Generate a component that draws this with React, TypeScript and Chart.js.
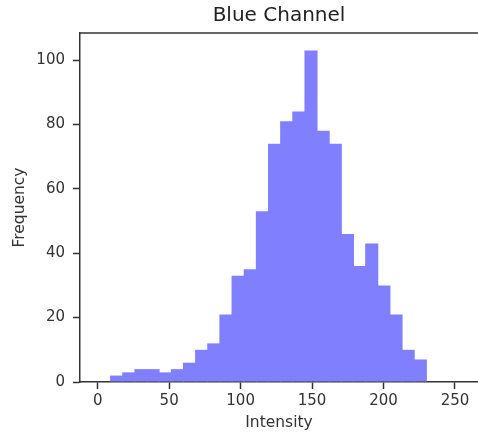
import React, { useEffect, useRef } from "react";
import { Chart, registerables } from "chart.js";

Chart.register(...registerables);

// Histogram bin edges (intensity) and counts per bin
const binEdges = [
  9, 17.5, 26, 34.5, 43, 51.5, 60, 68.5, 77, 85.5, 94, 102.5, 111, 119.5,
  128, 136.5, 145, 153.5, 162, 170.5, 179, 187.5, 196, 204.5, 213, 221.5, 230,
];
const counts = [
  2, 3, 4, 4, 3, 4, 6, 10, 12, 21, 33, 35, 53, 74, 81, 84, 103, 78, 74, 46,
  36, 43, 30, 21, 10, 7,
];
const xTicks = [0, 50, 100, 150, 200, 250];
const yTicks = [0, 20, 40, 60, 80, 100];

const TITLE = "Blue Channel";
const X_LABEL = "Intensity";
const Y_LABEL = "Frequency";

const W = 478;
const H = 434;
const FONT = "'DejaVu Sans', sans-serif";
const INK = "#333333";

const topSpine = {
  id: "topSpine",
  afterDatasetsDraw(chart: any) {
    const { ctx, chartArea } = chart;
    ctx.save();
    ctx.strokeStyle = INK;
    ctx.lineWidth = 1.5;
    ctx.beginPath();
    ctx.moveTo(chartArea.left - 0.75, chartArea.top);
    ctx.lineTo(chartArea.right, chartArea.top);
    ctx.stroke();
    ctx.restore();
  },
};

export default function App() {
  const ref = useRef<HTMLCanvasElement | null>(null);

  useEffect(() => {
    if (!ref.current) return;
    const data = counts.map((c, i) => ({
      x: (binEdges[i] + binEdges[i + 1]) / 2,
      y: c,
    }));
    const chart = new Chart(ref.current, {
      type: "bar",
      data: {
        datasets: [
          {
            data,
            backgroundColor: "#8080ff",
            borderWidth: 0,
            borderSkipped: false,
            barPercentage: 1.08,
            categoryPercentage: 1,
            grouped: false,
          } as any,
        ],
      },
      plugins: [topSpine],
      options: {
        animation: false,
        responsive: false,
        maintainAspectRatio: false,
        devicePixelRatio: 1,
        layout: { padding: 0 },
        plugins: {
          legend: { display: false },
          tooltip: { enabled: false },
          title: {
            display: true,
            text: TITLE,
            fullSize: false,
            color: "#222",
            font: { family: FONT, size: 20, weight: "normal" as any, lineHeight: 1.2 },
            padding: { top: 4, bottom: 5 },
          },
        },
        scales: {
          x: {
            type: "linear",
            min: -12.38,
            max: 266.1,
            offset: false,
            grid: {
              display: true,
              offset: false,
              drawOnChartArea: false,
              drawTicks: true,
              tickLength: 7,
              tickWidth: 1.5,
              tickColor: INK,
            },
            border: { display: true, color: INK, width: 1.5 },
            afterBuildTicks: (scale: any) => {
              scale.ticks = xTicks.map((v) => ({ value: v }));
            },
            afterFit: (scale: any) => {
              scale.height = 52;
            },
            ticks: {
              includeBounds: false,
              autoSkip: false,
              maxRotation: 0,
              padding: 3,
              color: INK,
              font: { family: FONT, size: 15 },
            },
            title: {
              display: true,
              text: X_LABEL,
              color: INK,
              font: { family: FONT, size: 15.5 },
              padding: { top: 0, bottom: 2 },
            },
          },
          y: {
            type: "linear",
            min: 0,
            max: 108.4,
            grid: {
              display: true,
              offset: false,
              drawOnChartArea: false,
              drawTicks: true,
              tickLength: 7,
              tickWidth: 1.5,
              tickColor: INK,
            },
            border: { display: true, color: INK, width: 1.5 },
            afterBuildTicks: (scale: any) => {
              scale.ticks = yTicks.map((v) => ({ value: v }));
            },
            afterFit: (scale: any) => {
              scale.width = 80;
            },
            ticks: {
              includeBounds: false,
              autoSkip: false,
              padding: 8,
              color: INK,
              font: { family: FONT, size: 15 },
            },
            title: {
              display: true,
              text: Y_LABEL,
              color: INK,
              font: { family: FONT, size: 15.5 },
              padding: { top: 11, bottom: 0 },
            },
          },
        },
      },
    });
    return () => chart.destroy();
  }, []);

  return (
    <div style={{ position: "absolute", left: 0, top: 0, width: W, height: H, background: "#fff" }}>
      <canvas ref={ref} width={W} height={H} style={{ display: "block" }} />
    </div>
  );
}
